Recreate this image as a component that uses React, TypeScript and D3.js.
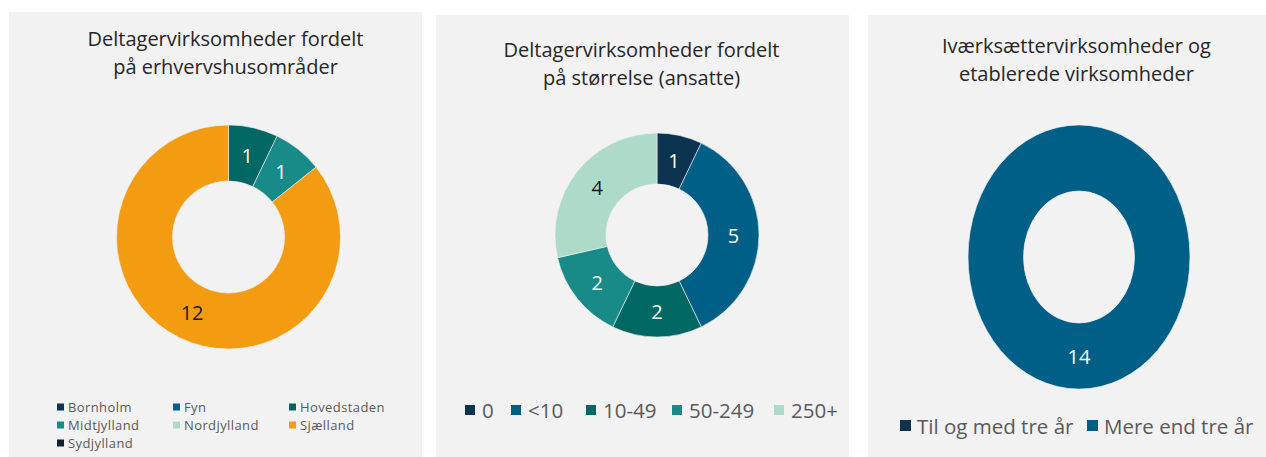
import React from "react";
import * as d3 from "d3";

const regionCats = ["Bornholm", "Fyn", "Hovedstaden", "Midtjylland", "Nordjylland", "Sjælland", "Sydjylland"];
const regionVals = [0, 0, 1, 1, 0, 12, 0];
const regionColors = ["#0c3350", "#005f87", "#006763", "#188a88", "#aedbc9", "#f39c12", "#0a2236"];

const sizeCats = ["0", "<10", "10-49", "50-249", "250+"];
const sizeVals = [1, 5, 2, 2, 4];
const sizeColors = ["#0c3350", "#005f87", "#006763", "#188a88", "#aedbc9"];

const ageCats = ["Til og med tre år", "Mere end tre år"];
const ageVals = [0, 14];
const ageColors = ["#0c3350", "#005f87"];

const title1 = ["Deltagervirksomheder fordelt", "på erhvervshusområder"];
const title2 = ["Deltagervirksomheder fordelt", "på størrelse (ansatte)"];
const title3 = ["Iværksættervirksomheder og", "etablerede virksomheder"];

const FONT = "'Open Sans', sans-serif";

type DonutProps = {
  vals: number[];
  colors: string[];
  cx: number;
  cy: number;
  r: number;
  sy?: number;
  darkIdx: number[];
  fontSize: number;
};

function Donut({ vals, colors, cx, cy, r, sy = 1, darkIdx, fontSize }: DonutProps) {
  const pie = d3.pie<number>().sort(null).value((d) => d);
  const arcs = pie(vals);
  const arc = d3.arc<d3.PieArcDatum<number>>().innerRadius(r * 0.5).outerRadius(r);
  return (
    <g transform={`translate(${cx},${cy}) scale(1,${sy})`}>
      {arcs.map((a, i) =>
        a.value > 0 ? (
          <path key={i} d={arc(a) || ""} fill={colors[i]} stroke="#f2f2f2" strokeWidth={0.6} />
        ) : null
      )}
      {arcs.map((a, i) => {
        if (a.value <= 0) return null;
        const [x, y] = arc.centroid(a);
        return (
          <text
            key={"t" + i}
            x={x}
            y={y}
            transform={`translate(${x},${y}) scale(1,${1 / sy}) translate(${-x},${-y})`}
            textAnchor="middle"
            dominantBaseline="central"
            fontFamily={FONT}
            fontSize={fontSize}
            fill={darkIdx.includes(i) ? "#1a1a1a" : "#ffffff"}
          >
            {a.value}
          </text>
        );
      })}
    </g>
  );
}

function Title({ lines, cx, y }: { lines: string[]; cx: number; y: number }) {
  return (
    <g>
      {lines.map((l, i) => (
        <text key={i} x={cx} y={y + i * 28} textAnchor="middle" fontFamily={FONT} fontSize={20} fill="#262626">
          {l}
        </text>
      ))}
    </g>
  );
}

export default function App() {
  const legend1X = [57, 173, 289];
  const legend1Y = [407, 425, 443];
  const legend2X = [465, 511, 586, 672, 774];
  const legend3X = [900, 1087];
  return (
    <svg width={1266} height={457} style={{ position: "absolute", left: 0, top: 0, background: "#ffffff" }}>
      <rect x={9} y={12} width={413} height={445} fill="#f2f2f2" />
      <rect x={436} y={15} width={413} height={442} fill="#f2f2f2" />
      <rect x={868} y={15} width={398} height={442} fill="#f2f2f2" />

      <Title lines={title1} cx={225.5} y={45.5} />
      <Title lines={title2} cx={641.5} y={57} />
      <Title lines={title3} cx={1076.5} y={53} />

      <Donut vals={regionVals} colors={regionColors} cx={228.5} cy={237} r={112} darkIdx={[5]} fontSize={20} />
      <Donut vals={sizeVals} colors={sizeColors} cx={657} cy={235} r={102} darkIdx={[4]} fontSize={20} />
      <Donut vals={ageVals} colors={ageColors} cx={1079} cy={257} r={111} sy={1.19} darkIdx={[]} fontSize={20} />

      {regionCats.map((c, i) => {
        const x = legend1X[i % 3];
        const y = legend1Y[Math.floor(i / 3)];
        return (
          <g key={c}>
            <rect x={x} y={y - 3.5} width={7} height={7} fill={regionColors[i]} />
            <text x={x + 11} y={y} dominantBaseline="central" fontFamily={FONT} fontSize={13} letterSpacing={0.4} fill="#595959">
              {c}
            </text>
          </g>
        );
      })}

      {sizeCats.map((c, i) => (
        <g key={c}>
          <rect x={legend2X[i]} y={405} width={10} height={10} fill={sizeColors[i]} />
          <text x={legend2X[i] + 17} y={410} dominantBaseline="central" fontFamily={FONT} fontSize={20.5} fill="#595959">
            {c}
          </text>
        </g>
      ))}

      {ageCats.map((c, i) => (
        <g key={c}>
          <rect x={legend3X[i]} y={420} width={11} height={11} fill={ageColors[i]} />
          <text x={legend3X[i] + 17} y={425.5} dominantBaseline="central" fontFamily={FONT} fontSize={20.5} fill="#595959">
            {c}
          </text>
        </g>
      ))}
    </svg>
  );
}
